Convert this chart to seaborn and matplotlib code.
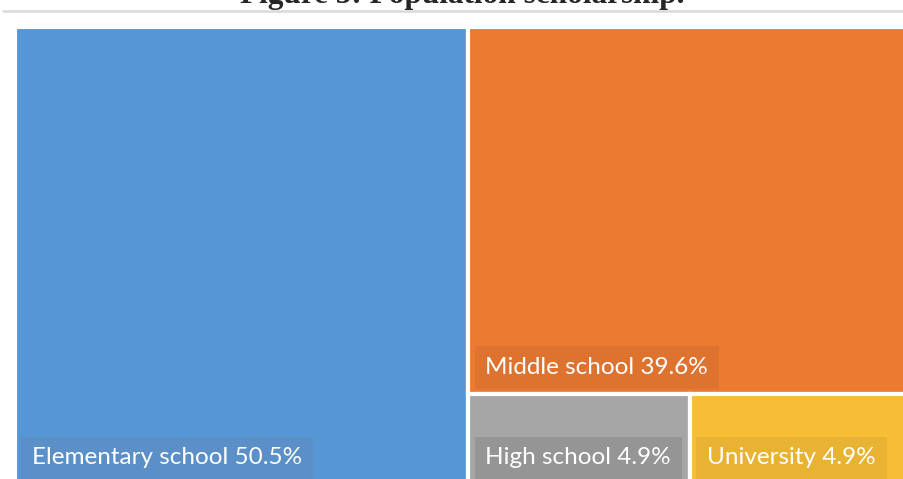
import seaborn as sns
import matplotlib.pyplot as plt
from matplotlib.lines import Line2D

# data
categories = ['Elementary school', 'Middle school', 'High school', 'University']
shares = [50.5, 39.6, 4.9, 4.9]
tile_colors = ['#5696d4', '#ec7b32', '#a6a6a6', '#f6bd35']
label_colors = ['#5a8fc8', '#de7330', '#959595', '#e8b232']
title = 'Figure 5: Population scholarship.'

# plotting area in pixels (treemap runs slightly past the crop)
W, H = 897, 458


def slice_layout(values, x, y, w, h):
    """split along the longer side, first item takes its share, recurse"""
    rects = []
    for i, v in enumerate(values):
        rest = sum(values[i:])
        if i == len(values) - 1:
            rects.append((x, y, w, h))
            break
        frac = v / rest
        if w >= h:
            rects.append((x, y, w * frac, h))
            x, w = x + w * frac, w * (1 - frac)
        else:
            # take the top part
            rects.append((x, y + h * (1 - frac), w, h * frac))
            h = h * (1 - frac)
    return rects


sns.set_theme(style='white')
plt.rcParams['font.family'] = ['Lato', 'DejaVu Sans']

fig = plt.figure(figsize=(9.04, 4.79), dpi=100)
ax = fig.add_axes([15 / 904, -6 / 479, W / 904, H / 479])

rects = slice_layout(shares, 0, 0, W, H)
ax.bar([r[0] for r in rects], [r[3] for r in rects],
       width=[r[2] for r in rects], bottom=[r[1] for r in rects],
       align='edge', color=tile_colors, edgecolor='white', linewidth=3)

for (x0, y0, w, h), name, val, lc in zip(rects, categories, shares, label_colors):
    ax.annotate(f'{name} {val}%', xy=(x0, y0), xycoords='data',
                xytext=(17, 27), textcoords='offset pixels',
                ha='left', va='center', color='white', fontsize=17.5,
                bbox=dict(boxstyle='square,pad=0.45', fc=lc, ec='none'))

ax.set_xlim(0, W)
ax.set_ylim(0, H)
ax.axis('off')

fig.text(462 / 904, 1 - 2.5 / 479, title, ha='center', va='baseline',
         fontsize=22.5, fontweight='bold', family='Liberation Serif')
fig.add_artist(Line2D([3 / 904, 1], [1 - 11 / 479, 1 - 11 / 479],
                      color='#d9d9d9', lw=1.8, transform=fig.transFigure))

fig.savefig('out.png', dpi=100)
